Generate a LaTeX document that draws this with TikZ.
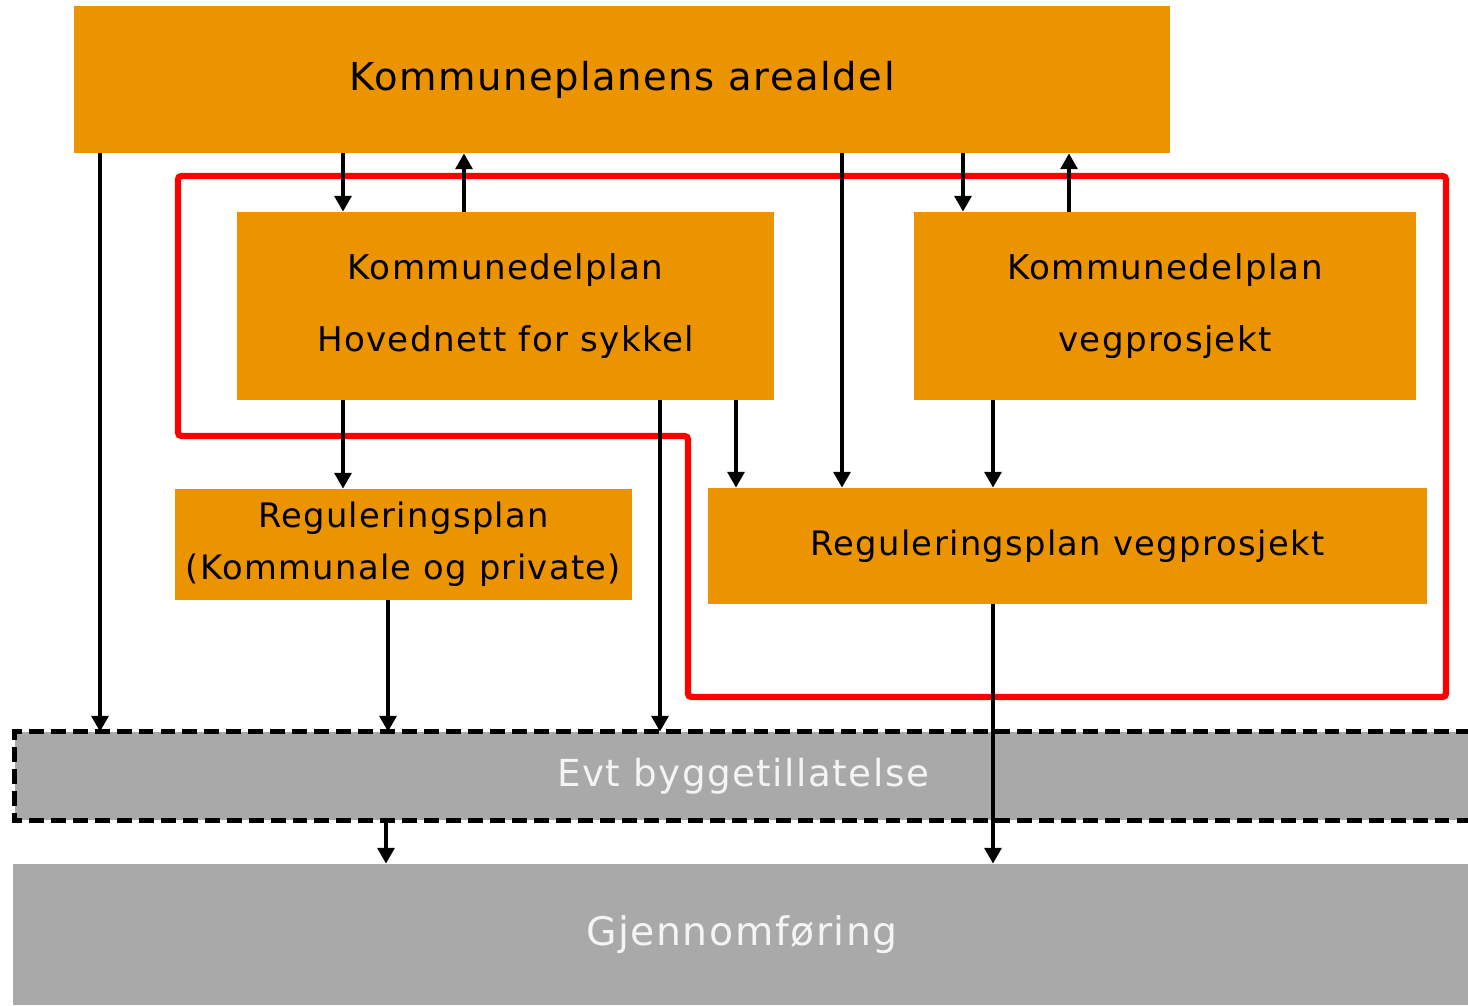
\documentclass[tikz,border=0pt]{standalone}
\usepackage{fontspec}
\setmainfont{DejaVu Sans}[LetterSpace=4]
\usepackage{xcolor}
\usepackage{tikz}
\usetikzlibrary{arrows.meta}
\definecolor{plan}{HTML}{EC9300}
\definecolor{grey}{HTML}{A9A9A9}
\definecolor{ring}{HTML}{FF0000}
\definecolor{pale}{HTML}{F4F4F4}
\tikzset{
  box/.style={fill=plan, inner sep=0pt, align=center, text=black},
  stage/.style={fill=grey, inner sep=0pt, align=center, text=pale},
  arr/.style={draw=black, line width=2.8pt, -{Triangle[width=9.5pt,length=9pt]}},
  edge/.style={draw=ring, line width=3.6pt, rounded corners=2pt},
}

\begin{document}
\begin{tikzpicture}[x=0.02cm, y=-0.02cm]
  \useasboundingbox (0,0) rectangle (1468,1005);
  % plan levels
  \node[box, minimum width=21.92cm, minimum height=2.94cm, font=\fontsize{21.9}{26}\selectfont]
    (kp) at (622,79.5) {Kommuneplanens arealdel};
  \node[box, minimum width=10.74cm, minimum height=3.76cm, font=\fontsize{19.4}{41}\selectfont]
    (kds) at (505.5,306) {Kommunedelplan\\Hovednett for sykkel};
  \node[box, minimum width=10.04cm, minimum height=3.76cm, font=\fontsize{19.4}{41}\selectfont]
    (kdv) at (1165,306) {Kommunedelplan\\vegprosjekt};
  \node[box, minimum width=9.14cm, minimum height=2.22cm, font=\fontsize{19.2}{29.6}\selectfont]
    (rpk) at (403.5,544.5) {Reguleringsplan\\(Kommunale og private)};
  \node[box, minimum width=14.38cm, minimum height=2.32cm, font=\fontsize{19.2}{23}\selectfont]
    (rpv) at (1067.5,546) {Reguleringsplan vegprosjekt};
  % approval and build stages
  \node[stage, minimum width=29.12cm, minimum height=1.76cm, font=\fontsize{21.2}{25}\selectfont]
    (evt) at (743,776) {Evt byggetillatelse};
  \node[stage, minimum width=29.16cm, minimum height=2.82cm, font=\fontsize{22.4}{27}\selectfont]
    (gj) at (742,934.5) {Gjennomføring};
  \draw[draw=black, line width=2.8pt, dash pattern=on 8.5pt off 4pt]
    (evt.north east) -- (evt.north west) -- (evt.south west) -- (evt.south east);
  % the road project frame
  \draw[edge] (178,176) -- (1446,176) -- (1446,697) -- (688,697) -- (688,436) -- (178,436) -- cycle;
  % connectors
  \foreach \x/\a/\b in {100/kp/evt, 343/kp/kds, 842/kp/rpv, 963/kp/kdv,
                        343/kds/rpk, 660/kds/evt, 736/kds/rpv, 993/kdv/rpv,
                        388/rpk/evt, 993/rpv/gj, 386/evt/gj}
    \draw[arr] (\x,0 |- \a.south) -- (\x,0 |- \b.north);
  \foreach \x/\a/\b in {464/kds/kp, 1069/kdv/kp}
    \draw[arr] (\x,0 |- \a.north) -- (\x,0 |- \b.south);
\end{tikzpicture}
\end{document}
